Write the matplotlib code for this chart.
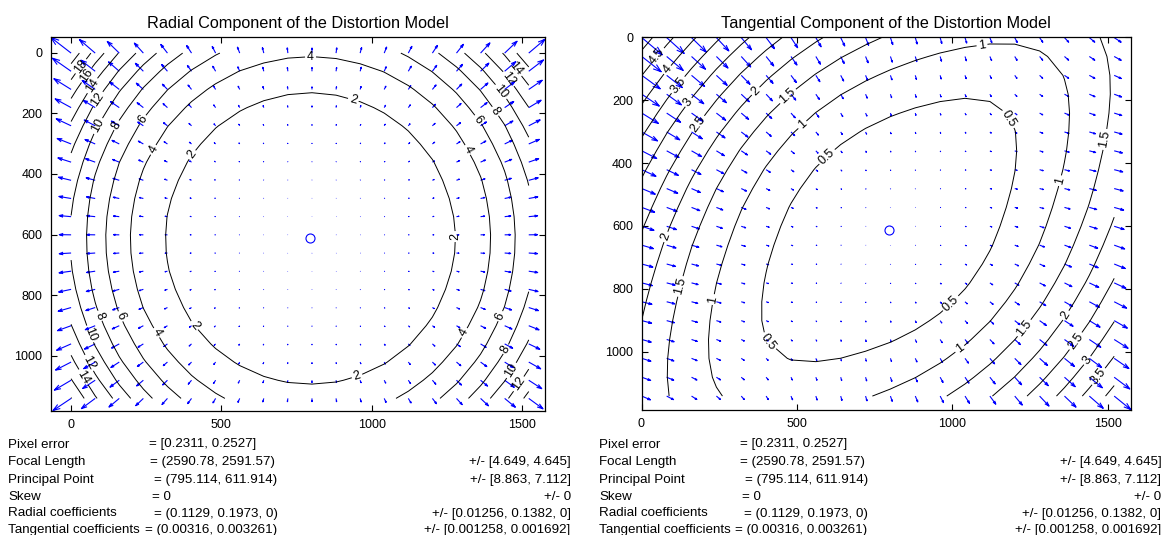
import numpy as np
import matplotlib
matplotlib.use("Agg")
import matplotlib.pyplot as plt

# ---------------- calibration data (as printed in the figure) ----------------
image_size = [1600, 1200]          # nx, ny  (pixels)
grid_divisions = 20                # arrows per image side
pixel_error = [0.2311, 0.2527]
focal_length = [2590.78, 2591.57]
focal_length_err = [4.649, 4.645]
principal_point = [795.114, 611.914]
principal_point_err = [8.863, 7.112]
skew = 0
skew_err = 0
radial_coeffs = [0.1129, 0.1973, 0]
radial_coeffs_err = [0.01256, 0.1382, 0]
tangential_coeffs = [0.00316, 0.003261]
tangential_coeffs_err = [0.001258, 0.001692]

radial_levels = [2, 4, 6, 8, 10, 12, 14, 16, 18, 20]
tangential_levels = [0.5, 1, 1.5, 2, 2.5, 3, 3.5, 4, 4.5, 5]

titles = ["Radial Component of the Distortion Model",
          "Tangential Component of the Distortion Model"]
x_ticks = [0, 500, 1000, 1500]
y_ticks = [0, 200, 400, 600, 800, 1000]

plt.rcParams["font.family"] = ["Liberation Sans", "DejaVu Sans"]

W, H = 1162, 535
fig = plt.figure(figsize=(W / 100, H / 100), dpi=100)


def field(k1, k2, k3, p1, p2):
    nx, ny = image_size
    gx = np.arange(0, nx - 1, nx / grid_divisions)
    gy = np.arange(0, ny - 1, ny / grid_divisions)
    mx, my = np.meshgrid(gx, gy)
    fc, cc = focal_length, principal_point
    xn = (mx - cc[0]) / fc[0]
    yn = (my - cc[1]) / fc[1]
    r2 = xn ** 2 + yn ** 2
    cdist = 1 + k1 * r2 + k2 * r2 ** 2 + k3 * r2 ** 3
    xd = xn * cdist + 2 * p1 * xn * yn + p2 * (r2 + 2 * xn ** 2)
    yd = yn * cdist + p1 * (r2 + 2 * yn ** 2) + 2 * p2 * xn * yn
    dx = fc[0] * xd + cc[0] - mx
    dy = fc[1] * yd + cc[1] - my
    return mx, my, dx, dy


def matlab_quiver(ax, x, y, u, v):
    x = x.ravel() + 1.0
    y = y.ravel() + 1.0
    u = u.ravel().copy()
    v = v.ravel().copy()
    n = np.sqrt(x.size)
    delx = (x.max() - x.min()) / n
    dely = (y.max() - y.min()) / n
    d2 = delx ** 2 + dely ** 2
    ln = np.sqrt((u ** 2 + v ** 2) / d2)
    s = 0.9 / ln.max()
    u *= s
    v *= s
    a = b = 0.33
    nan = np.full_like(x, np.nan)
    sx = np.vstack([x, x + u, nan]).T.ravel()
    sy = np.vstack([y, y + v, nan]).T.ravel()
    hx = np.vstack([x + u - a * (u + b * v), x + u, x + u - a * (u - b * v), nan]).T.ravel()
    hy = np.vstack([y + v - a * (v - b * u), y + v, y + v - a * (v + b * u), nan]).T.ravel()
    ax.plot(np.concatenate([sx, hx]), np.concatenate([sy, hy]),
            color=(0, 0, 1), lw=0.8, solid_capstyle="butt")


def label_points(ax, cs, spacing=190.0, min_len=30.0):
    pts = []
    for segs in cs.allsegs:
        for seg in segs:
            if len(seg) < 2:
                continue
            d = ax.transData.transform(seg)
            step = np.hypot(np.diff(d[:, 0]), np.diff(d[:, 1]))
            cum = np.concatenate([[0], np.cumsum(step)])
            L = cum[-1]
            if L < min_len:
                continue
            n = max(1, int(round(L / spacing)))
            for k in range(n):
                s = L * (k + 0.5) / n
                px = np.interp(s, cum, seg[:, 0])
                py = np.interp(s, cum, seg[:, 1])
                pts.append((px, py))
    return pts


axes_px = [(50.7, 37.3, 545.0, 410.5), (641.5, 37.3, 1130.7, 409.5)]
coeffs = [(radial_coeffs[0], radial_coeffs[1], radial_coeffs[2], 0.0, 0.0),
          (0.0, 0.0, 0.0, tangential_coeffs[0], tangential_coeffs[1])]
levels = [radial_levels, tangential_levels]

lines_lab = ["Pixel error", "Focal Length", "Principal Point", "Skew",
             "Radial coefficients", "Tangential coefficients"]


def fmt(vals, br="("):
    cl = ")" if br == "(" else "]"
    return br + ", ".join(f"{v:g}" for v in vals) + cl


lines_val = ["= " + fmt(pixel_error, "["),
             "= " + fmt(focal_length),
             "= " + fmt(principal_point),
             f"= {skew:g}",
             "= " + fmt(radial_coeffs),
             "= " + fmt(tangential_coeffs)]
lines_err = ["",
             "+/- " + fmt(focal_length_err, "["),
             "+/- " + fmt(principal_point_err, "["),
             f"+/- {skew_err:g}",
             "+/- " + fmt(radial_coeffs_err, "["),
             "+/- " + fmt(tangential_coeffs_err, "[")]
eq_off = [98.0, 98.8, 103.6, 101.0, 102.9, 93.9]
line_y = [444.5, 462, 479.5, 496.5, 513.5, 530.5]

for i in range(2):
    l, t, r, b = axes_px[i]
    ax = fig.add_axes([l / W, 1 - b / H, (r - l) / W, (b - t) / H])
    mx, my, dx, dy = field(*coeffs[i])
    matlab_quiver(ax, mx, my, dx, dy)
    ax.plot(principal_point[0] + 1, principal_point[1] + 1, "o", ms=6.5,
            mfc="none", mec=(0, 0, 1), mew=0.8)
    dr = np.sqrt(dx ** 2 + dy ** 2)
    cs = ax.contour(mx[0, :] + 1, my[:, 0] + 1, dr, levels=levels[i],
                    colors="k", linewidths=0.7)
    ax.margins(0)
    ax.autoscale(tight=True)
    y0, y1 = ax.get_ylim()
    ax.set_ylim(max(y0, y1), min(y0, y1))
    ax.set_xticks(x_ticks)
    ax.set_yticks(y_ticks)
    ax.tick_params(direction="in", length=4.5, width=0.8, top=True, right=True,
                   labelsize=9, pad=6)
    for sp in ax.spines.values():
        sp.set_linewidth(0.9)
    ax.set_title(titles[i], fontsize=11.7, pad=7)

    pts = label_points(ax, cs)
    ax.clabel(cs, fontsize=9, inline=True, inline_spacing=2, fmt="%g",
              manual=pts)

    for j in range(6):
        y = 1 - line_y[j] / H
        fig.text((l - 42.5) / W, y, lines_lab[j], fontsize=9.6, va="center")
        fig.text((l + eq_off[j]) / W, y, lines_val[j], fontsize=9.6, va="center")
        if lines_err[j]:
            fig.text((l + 520) / W, y, lines_err[j], fontsize=9.6, va="center",
                     ha="right")

fig.savefig("out.png", dpi=100)
